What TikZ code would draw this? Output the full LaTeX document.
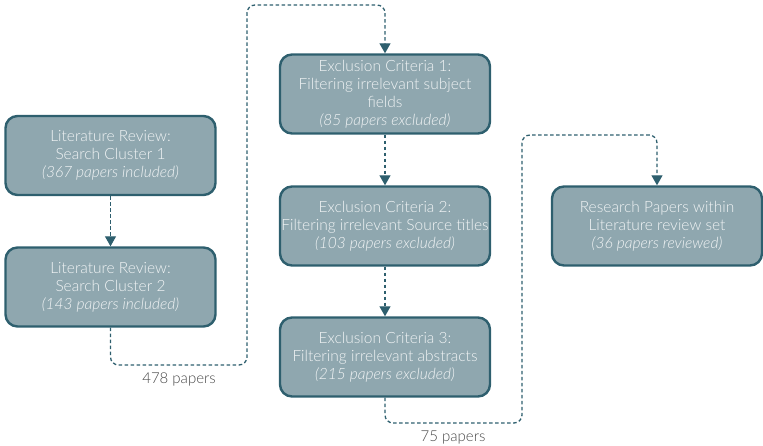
\documentclass[tikz,border=0pt]{standalone}
\usepackage{fontspec}
\setmainfont{Lato}[UprightFont={* Light}, ItalicFont={* Light Italic}]
\usetikzlibrary{arrows.meta}
\definecolor{boxfill}{HTML}{8FA7AF}
\definecolor{boxedge}{HTML}{2E5F6E}
\definecolor{boxtext}{HTML}{F2F5F6}
\definecolor{labeltext}{HTML}{474747}
\tikzset{
  stage/.style={draw=boxedge, line width=2.4pt, fill=boxfill, rounded corners=12pt,
    minimum width=210pt, minimum height=79pt, align=center, text=boxtext,
    font=\fontsize{15.5pt}{18pt}\selectfont, inner sep=0pt},
  flow/.style={draw=boxedge, line width=1.3pt, dash pattern=on 3.5pt off 2.5pt,
    rounded corners=8pt, -{Triangle[width=11pt,length=10pt]}},
  count/.style={text=labeltext, font=\fontsize{15pt}{16pt}\selectfont, inner sep=0pt}
}
\begin{document}
\begin{tikzpicture}[x=1pt, y=-1pt]
  \useasboundingbox (0,0) rectangle (763,446);

  % search clusters
  \node[stage] (b1) at (110.5,155.5) {Literature Review:\\Search Cluster 1\\\textit{(367 papers included)}};
  \node[stage] (b2) at (110.5,287) {Literature Review:\\Search Cluster 2\\\textit{(143 papers included)}};

  % exclusion criteria
  \node[stage] (b3) at (385,94) {Exclusion Criteria 1:\\Filtering irrelevant subject\\fields\\\textit{(85 papers excluded)}};
  \node[stage] (b4) at (385,226) {Exclusion Criteria 2:\\Filtering irrelevant Source titles\\\textit{(103 papers excluded)}};
  \node[stage] (b5) at (385,357) {Exclusion Criteria 3:\\Filtering irrelevant abstracts\\\textit{(215 papers excluded)}};

  % final set
  \node[stage] (b6) at (657,226) {Research Papers within\\Literature review set\\\textit{(36 papers reviewed)}};

  % routing points of the long connectors
  \coordinate (c1) at (247,365);
  \coordinate (c2) at (247,5);
  \coordinate (c3) at (522,423);
  \coordinate (c4) at (522,135);

  \draw[flow] (b1.south) -- (b2.north);
  \draw[flow] (b3.south) -- (b4.north);
  \draw[flow] (b4.south) -- (b5.north);
  \draw[flow] (b2.south) |- (c1) -- (c2) -| (b3.north);
  \draw[flow] (b5.south) |- (c3) -- (c4) -| (b6.north);

  \node[count] (n1) at (179,379) {478 papers};
  \node[count] (n2) at (453,438) {75 papers};
\end{tikzpicture}
\end{document}
